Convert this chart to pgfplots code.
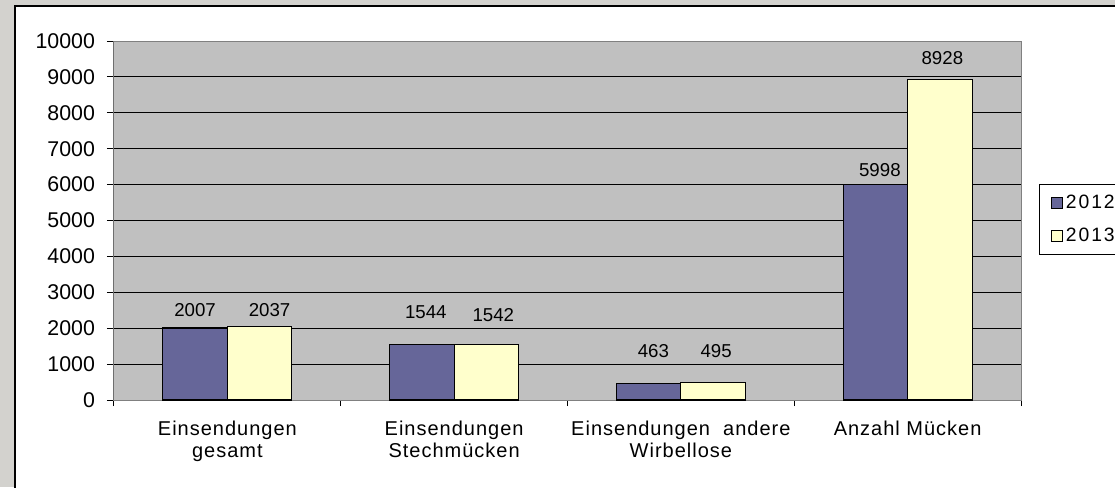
\documentclass[border=0pt]{standalone}
\usepackage{fontspec}
\setmainfont{Liberation Sans}
\newfontfamily\catfont[LetterSpace=5]{Liberation Sans}
\newfontfamily\legfont[LetterSpace=10]{Liberation Sans}
\usepackage{pgfplots}
\usepackage{pgfplotstable}
\pgfplotsset{compat=1.18}
\definecolor{bgtex}{HTML}{D3D2CE}
\definecolor{plotbg}{HTML}{C0C0C0}
\definecolor{barA}{HTML}{666699}
\definecolor{barB}{HTML}{FFFFCC}
\definecolor{frame}{HTML}{808080}

\pgfplotstableread{
x y dy dx
0 2007 18 0
1 1544 32 4
2 463 32 4.7
3 5998 15 4.5
}\dataA
\pgfplotstableread{
x y dy dx
0 2037 17 10
1 1542 30 7
2 495 31.5 3
3 8928 21 2.5
}\dataB

\begin{document}
\begin{tikzpicture}
\useasboundingbox (0,0) rectangle (836.25pt,-365.25pt);
\begin{scope}
\clip (0,0) rectangle (836.25pt,-365.25pt);
\fill[bgtex] (0,0) rectangle (836.25pt,-365.25pt);
\filldraw[fill=white, draw=black, line width=0.9pt] (11.25pt,-4.5pt) rectangle (900pt,-400pt);
\begin{axis}[
  at={(85.5pt,-300pt)}, anchor=south west,
  scale only axis, width=680.25pt, height=269.25pt,
  xmin=-0.5, xmax=3.5, ymin=0, ymax=10000,
  axis background/.style={fill=plotbg},
  axis line style={draw=frame, line width=0.75pt},
  ybar=0pt, bar width=48.375pt,
  xtick={0,1,2,3},
  xticklabels={{Einsendungen\\gesamt},{Einsendungen\\Stechmücken},{Einsendungen\ \ andere\\Wirbellose},{Anzahl Mücken}},
  minor xtick={-0.5,0.5,1.5,2.5,3.5},
  ytick={0,1000,...,10000},
  scaled y ticks=false,
  tick pos=left,
  tick align=outside,
  major tick length=5.25pt,
  minor tick length=4.5pt,
  every major x tick/.append style={draw=none},
  tick style={black, line width=0.75pt},
  ymajorgrids, grid style={black, line width=0.75pt},
  /pgf/number format/assume math mode=true,
  /pgf/number format/1000 sep={},
  yticklabel style={font=\fontsize{16}{19}\selectfont, xshift=-5.5pt, /pgf/number format/1000 sep={}},
  xticklabel style={align=center, font=\catfont\fontsize{15}{16.8}\selectfont, yshift=-6.75pt},
  visualization depends on={\thisrow{dy} \as \dy},
  visualization depends on={\thisrow{dx} \as \dx},
  nodes near coords,
  every node near coord/.append style={font=\fontsize{14}{16}\selectfont, anchor=center, yshift={0.75pt*\dy}, xshift={0.75pt*\dx}, /pgf/number format/1000 sep={}},
  legend style={at={(1.0198,0.6017)}, anchor=north west, draw=black, line width=0.75pt, fill=white, font=\legfont\fontsize{14.5}{16}\selectfont, row sep=9pt, inner ysep=6pt, inner xsep=9pt},
  legend cell align=left,
  legend image code/.code={\draw[#1, draw=black, line width=0.6pt] (0pt,-4.1pt) rectangle (8.25pt,4.1pt);},
]
\addplot[fill=barA, draw=black, line width=0.9pt] table[x=x,y=y]{\dataA};
\addplot[fill=barB, draw=black, line width=0.9pt] table[x=x,y=y]{\dataB};
\legend{2012\hspace{20pt},2013\hspace{20pt}}
\draw[black, line width=0.75pt] (rel axis cs:0,0) -- (rel axis cs:0,1);
\end{axis}
\end{scope}
\end{tikzpicture}
\end{document}
